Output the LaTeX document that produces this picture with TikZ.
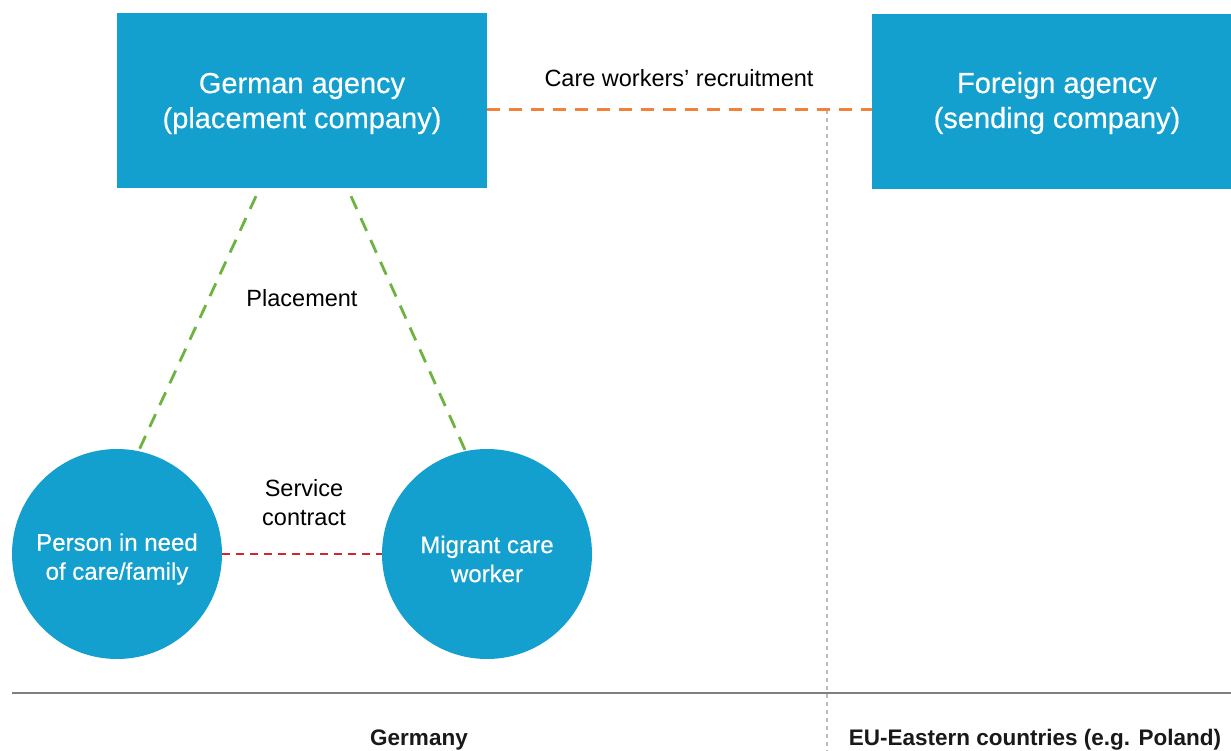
\documentclass[tikz,border=0pt]{standalone}
\usepackage{fontspec}
\usetikzlibrary{calc}
\setmainfont{Liberation Sans}
\newfontfamily\whitefont[FakeBold=0.4]{Liberation Sans}
\newfontfamily\regionfont{Liberation Sans Bold}
\definecolor{agblue}{HTML}{13A0CE}
\definecolor{recorange}{HTML}{F0823C}
\definecolor{placegreen}{HTML}{6DB33F}
\definecolor{contractred}{HTML}{D0282E}
\definecolor{bordergray}{HTML}{808080}
\definecolor{dotgray}{HTML}{BBBBBB}
\begin{document}
\begin{tikzpicture}[x=1pt,y=-1pt,
  agencybox/.style={fill=agblue, draw=none, minimum width=370pt,
    minimum height=175pt, inner sep=0pt},
  agencytext/.style={text=white, align=center, yshift=-3pt,
    font=\whitefont\fontsize{29}{35}\selectfont},
  personcircle/.style={circle, fill=agblue, draw=none,
    minimum size=210pt, inner sep=0pt},
  persontext/.style={text=white, align=center, yshift=-5pt,
    font=\whitefont\fontsize{24}{29}\selectfont},
  lbl/.style={text=black, align=center, font=\fontsize{23.5}{29}\selectfont},
  regionlbl/.style={text=black!90, font=\regionfont\fontsize{22.5}{26}\selectfont},
  recline/.style={draw=recorange, line width=3pt, dash pattern=on 13pt off 9pt},
  placeline/.style={draw=placegreen, line width=2.8pt, dash pattern=on 14pt off 10pt},
  contractline/.style={draw=contractred, line width=2.8pt, dash pattern=on 8pt off 6pt},
  borderline/.style={draw=bordergray, line width=2pt},
  dividerline/.style={draw=dotgray, line width=1.2pt, dash pattern=on 4pt off 4pt}
]
\clip (0,0) rectangle (1231,751);
\fill[white] (0,0) rectangle (1231,751);

\node[agencybox, label={[agencytext]center:{German agency\\(placement company)}}] (ga) at (302,100.5) {};
\node[agencybox, label={[agencytext, yshift=2pt]center:{Foreign agency\\(sending company)}}] (fa) at (1057,102) {};

\node[personcircle, label={[persontext]center:{Person in need\\of care/family}}] (pc) at (117,554) {};
\node[personcircle, label={[persontext]center:{Migrant care\\worker}}] (mw) at (487,554) {};

\coordinate (divtop) at (827,110);
\coordinate (divbot) at (827,751);
\coordinate (hl) at (12,693);
\coordinate (hr) at (1231,693);

\draw[dividerline] (divtop) -- (divbot);
\draw[recline] (ga.east |- divtop) -- (fa.west |- divtop);
\draw[borderline] (hl) -- (hr);

\draw[placeline] ($(ga.south)+(-46,8)$) -- ($(pc.center)!0.94!(pc.79)$);
\draw[placeline] ($(ga.south)+(49,8)$) -- ($(mw.center)!0.94!(mw.101)$);
\draw[contractline] (pc.east) -- (mw.west);

\node[lbl] (reclbl) at (679,78) {Care workers’ recruitment};
\node[lbl] (placelbl) at (302,298) {Placement};
\node[lbl] (contractlbl) at (304,503) {Service\\contract};

\node[regionlbl] (de) at (419,740) {Germany};
\node[regionlbl] (eu) at (1035,740) {EU-Eastern countries (e.g. Poland)};
\end{tikzpicture}
\end{document}
